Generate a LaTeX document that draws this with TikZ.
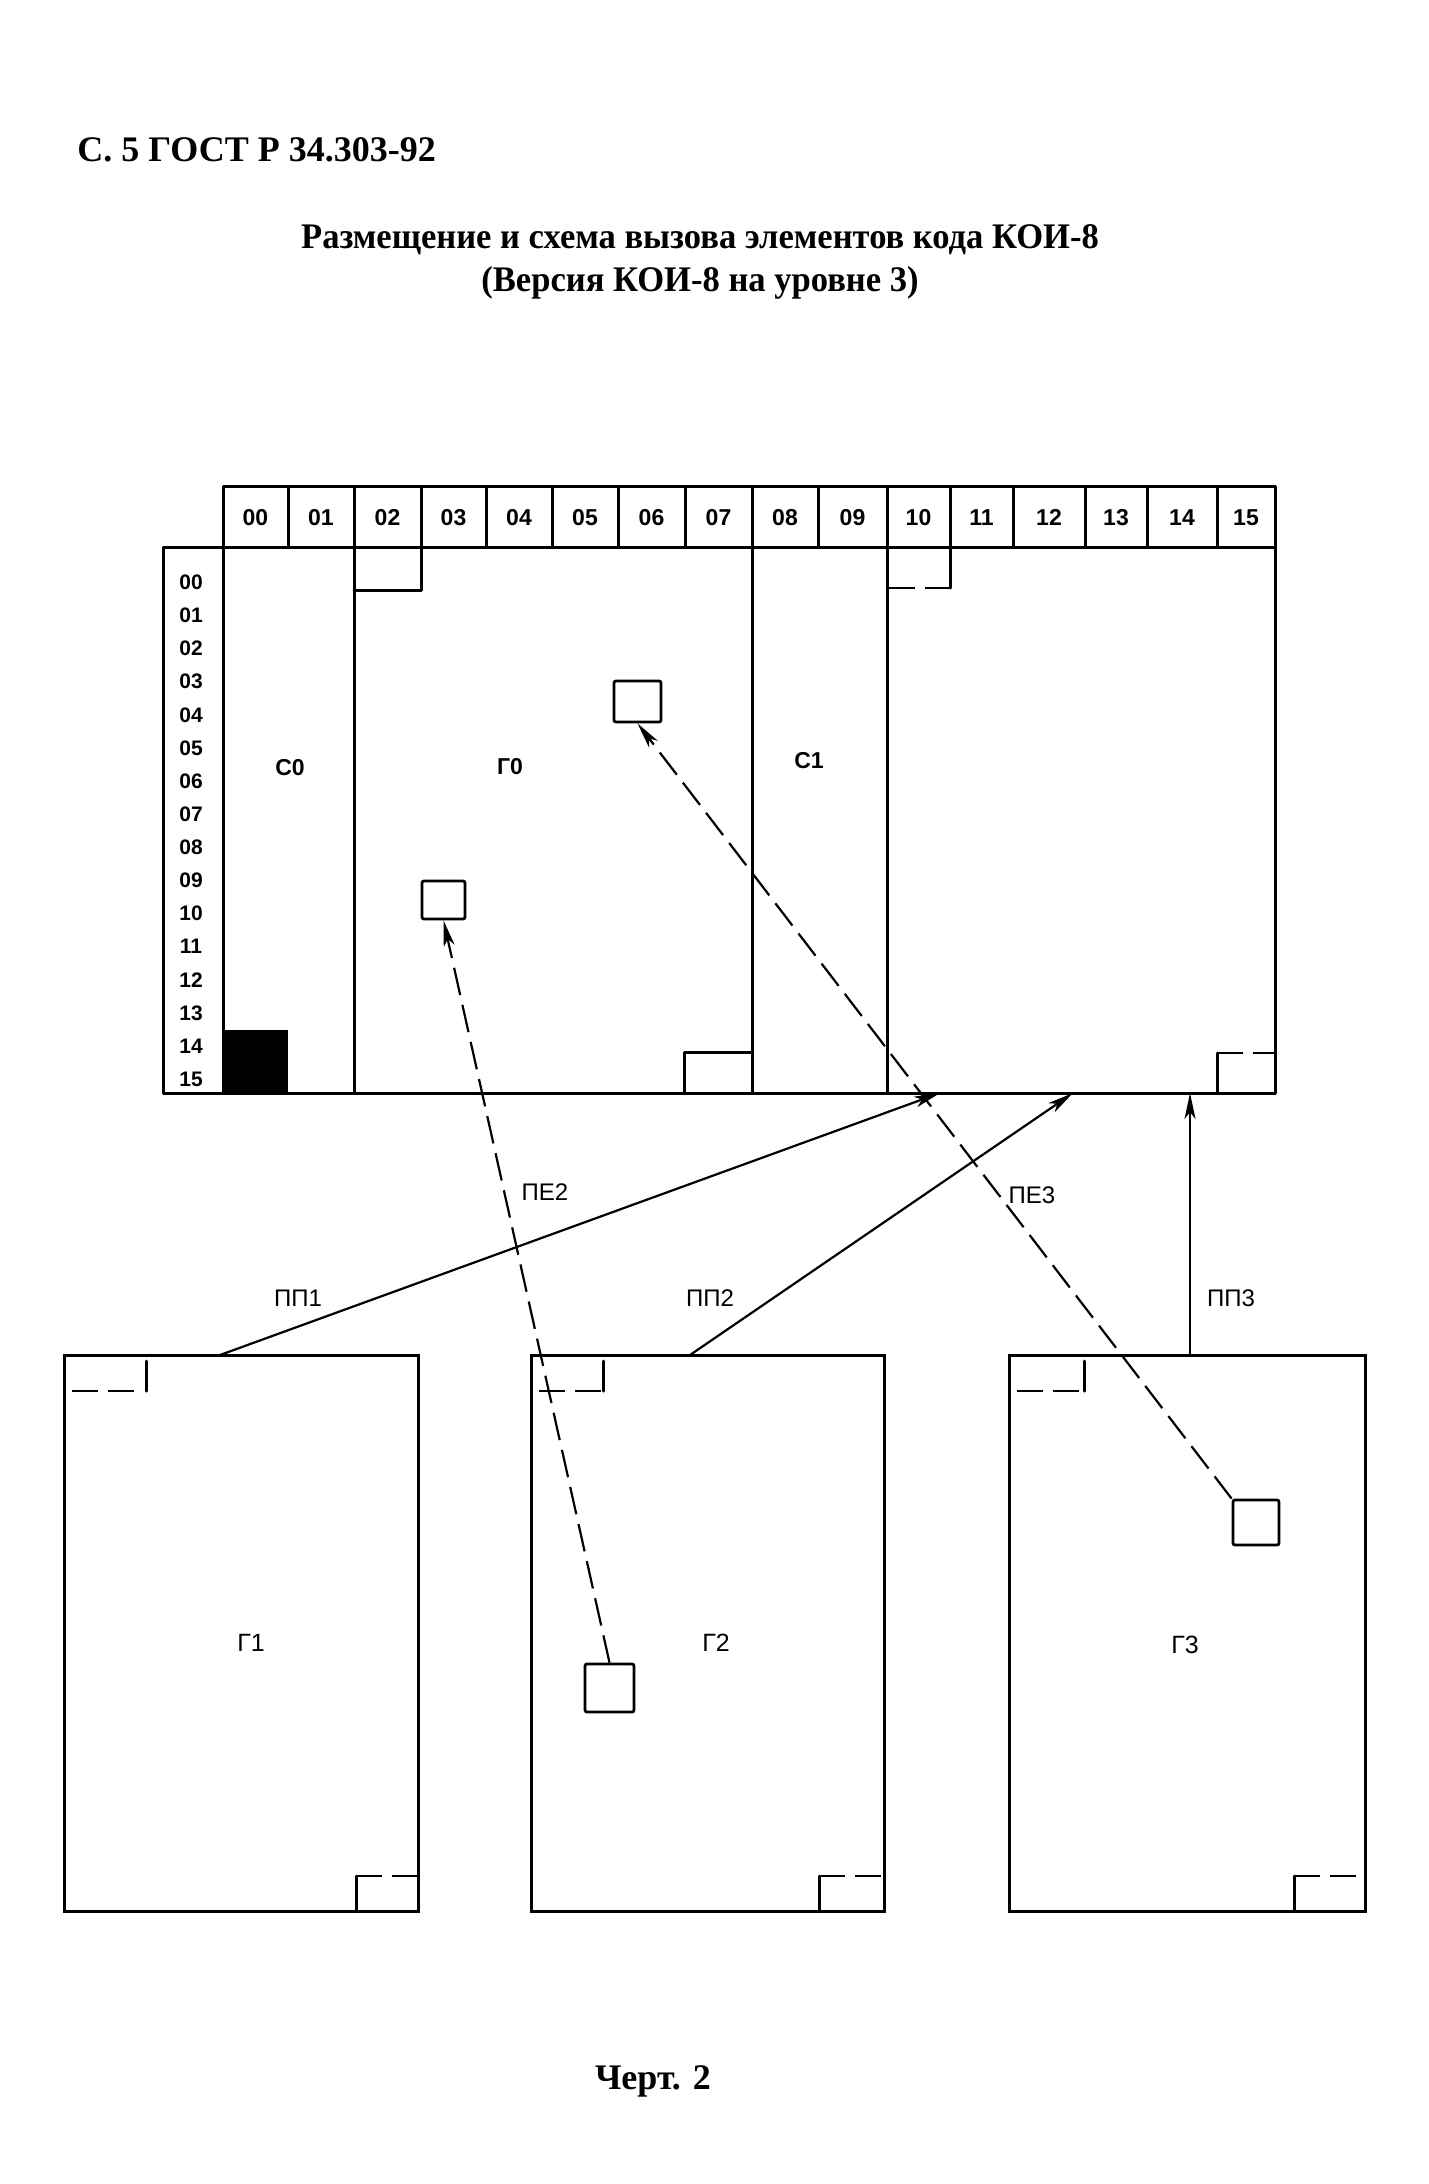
\documentclass[tikz,border=0pt]{standalone}
\usepackage{fontspec}
\setmainfont{Liberation Serif}
\newfontfamily\lsans{Liberation Sans}
\newfontfamily\tserif[FakeStretch=0.96]{Liberation Serif}
\usetikzlibrary{arrows.meta}
\begin{document}
\begin{tikzpicture}[x=0.5pt,y=-0.5pt,
  frame/.style={line width=1.5pt, line cap=round, line join=round},
  conn/.style={line width=1.1pt, -{Stealth[length=13pt,width=5.5pt,inset=3.5pt]}},
  dconn/.style={conn, dash pattern=on 14pt off 5pt},
  dmark/.style={line width=1.2pt, dash pattern=on 13pt off 5pt},
  sq/.style={draw, line width=1.4pt, rounded corners=1pt, inner sep=0pt},
  gbox/.style={draw, line width=1.5pt, inner sep=0pt, minimum width=#1, minimum height=278pt},
  num/.style={font=\lsans\bfseries\fontsize{11.5}{13}\selectfont, inner sep=0pt, anchor=base},
  rnum/.style={font=\lsans\bfseries\fontsize{10.5}{12}\selectfont, inner sep=0pt, anchor=base},
  lbl/.style={font=\lsans\fontsize{12}{14}\selectfont, inner sep=0pt},
  glbl/.style={font=\lsans\fontsize{12.5}{14}\selectfont, inner sep=0pt},
  ttl/.style={font=\bfseries\fontsize{18}{21}\selectfont, inner sep=0pt},
  ttlc/.style={font=\tserif\bfseries\fontsize{18}{21}\selectfont, inner sep=0pt}]
\useasboundingbox (0,0) rectangle (1429,2184);
\fill[white] (0,0) rectangle (1429,2184);

% titles
\node[ttl, anchor=base west] (t1) at (77,161) {С. 5 ГОСТ Р 34.303-92};
\node[ttlc, anchor=base] (t2) at (700,248) {Размещение и схема вызова элементов кода КОИ-8};
\node[ttlc, anchor=base] (t3) at (700,291) {(Версия КОИ-8 на уровне 3)};
\node[ttl, anchor=base] (t4) at (653,2089) {Черт. 2};

% header row
\foreach \a/\b/\t in {223/288/00,288/354/01,354/421/02,421/486/03,486/552/04,552/618/05,618/685/06,685/752/07,752/818/08,818/887/09,887/950/10,950/1013/11,1013/1085/12,1085/1147/13,1147/1217/14,1217/1275/15}{
  \draw[frame] (\a,486) rectangle (\b,547);
  \node[num] (h\t) at ({(\a+\b)/2},525) {\t};
}

% body
\fill[black] (223,1030) rectangle (288,1093);
\draw[frame] (163,547) rectangle (1275,1093);
\foreach \x in {223,354,752,887}{\draw[frame] (\x,547) -- (\x,1093);}
\foreach \i/\t in {0/00,1/01,2/02,3/03,4/04,5/05,6/06,7/07,8/08,9/09,10/10,11/11,12/12,13/13,14/14,15/15}{
  \node[rnum] (r\t) at (191,{589.5+\i*33.13}) {\t};
}
\node[num] (c0) at (290,775) {C0};
\node[num] (g0) at (510,774) {Г0};
\node[num] (c1) at (809,768) {C1};

% corner marks in the table
\draw[frame] (354,590) -- (421,590) -- (421,547);
\draw[frame] (684,1093) -- (684,1052) -- (752,1052);
\draw[dmark] (889,588) -- (950,588);
\draw[frame] (950,547) -- (950,588);
\draw[frame] (1217,1093) -- (1217,1053);
\draw[dmark] (1217,1053) -- (1275,1053);

% small squares
\node[sq, minimum width=23.5pt, minimum height=20.5pt] (sqa) at (637.5,701.5) {};
\node[sq, minimum width=21.5pt, minimum height=19pt] (sqb) at (443.5,900) {};
\node[sq, minimum width=24.5pt, minimum height=24pt] (sq2) at (609.5,1688) {};
\node[sq, minimum width=23pt, minimum height=22.5pt] (sq3) at (1256,1522.5) {};

% lower boxes
\node[gbox=177pt] (G1) at (241,1633) {};
\node[gbox=176.5pt] (G2) at (707.5,1633) {};
\node[gbox=178pt] (G3) at (1187,1633) {};
\node[glbl] (lg1) at (251,1643) {Г1};
\node[glbl] (lg2) at (716,1643) {Г2};
\node[glbl] (lg3) at (1185,1645) {Г3};

% corner marks in the lower boxes
\foreach \L/\R/\p/\q in {64/418/82/62,531/884/72/65,1009/1365/75/71}{
  \draw[frame] ({\L+\p},1361) -- ({\L+\p},1391);
  \draw[dmark] ({\L+8},1391) -- ({\L+\p-2},1391);
  \draw[frame] ({\R-\q},1911) -- ({\R-\q},1876);
  \draw[dmark] ({\R-\q},1876) -- (\R,1876);
}

% connectors
\coordinate (s1) at (220,1355);
\coordinate (s2) at (690,1355);
\coordinate (s3) at (1190,1355);
\coordinate (e1) at (940,1093);
\coordinate (e2) at (1073,1093);
\coordinate (e3) at (1190,1093);
\draw[conn] (s1) -- (e1);
\draw[conn] (s2) -- (e2);
\draw[conn] (s3) -- (e3);
\draw[dconn] (sq2.north) -- (sqb.south);
\draw[dconn] (sq3.north west) -- (sqa.south);

\node[lbl] (pe2) at (545,1192) {ПЕ2};
\node[lbl] (pe3) at (1032,1195) {ПЕ3};
\node[lbl] (pp1) at (298,1298) {ПП1};
\node[lbl] (pp2) at (710,1298) {ПП2};
\node[lbl] (pp3) at (1231,1298) {ПП3};
\end{tikzpicture}
\end{document}
